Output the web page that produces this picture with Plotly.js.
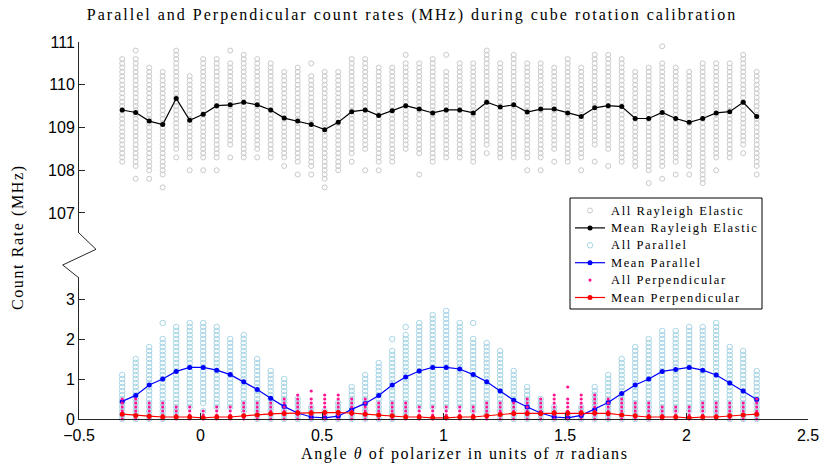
<!DOCTYPE html>
<html>
<head>
<meta charset="utf-8">
<script src="https://cdn.plot.ly/plotly-3.0.1.min.js"></script>
<style>
  body { margin: 0; background: #fff; }
  #chart { width: 824px; height: 464px; }
  .gtitle { letter-spacing: 2px; }
  .annotation-text { letter-spacing: 1.6px; }
</style>
</head>
<body>
<div id="chart"></div>
<script>
// Polarizer angle of each measurement step, in degrees
const angleDeg = [-58, -48, -38, -28, -18, -8, 2, 12, 22, 32, 42, 52, 62, 72, 82, 92,
  102, 112, 122, 132, 142, 152, 162, 172, 182, 192, 202, 212, 222, 232, 242, 252,
  262, 272, 282, 292, 302, 312, 322, 332, 342, 352, 362, 372, 382, 392, 402, 412];

// Mean count rates per angle (MHz)
const meanRayleigh = [109.41, 109.35, 109.15, 109.07, 109.68, 109.17, 109.31, 109.51,
  109.53, 109.59, 109.53, 109.41, 109.22, 109.15, 109.07, 108.95, 109.12, 109.37,
  109.41, 109.28, 109.39, 109.51, 109.43, 109.34, 109.41, 109.41, 109.34, 109.59,
  109.48, 109.53, 109.36, 109.43, 109.43, 109.34, 109.26, 109.46, 109.51, 109.49,
  109.21, 109.21, 109.35, 109.21, 109.12, 109.21, 109.34, 109.37, 109.59, 109.26];

const meanParallel = [0.44, 0.59, 0.85, 1.00, 1.19, 1.29, 1.29, 1.22, 1.11, 0.93,
  0.74, 0.52, 0.31, 0.15, 0.05, 0.03, 0.07, 0.24, 0.39, 0.59, 0.85, 1.05, 1.20,
  1.29, 1.29, 1.25, 1.11, 0.93, 0.70, 0.47, 0.30, 0.15, 0.05, 0.03, 0.09, 0.24,
  0.41, 0.64, 0.85, 1.00, 1.19, 1.24, 1.29, 1.22, 1.10, 0.90, 0.70, 0.49];

const meanPerpendicular = [0.12, 0.09, 0.07, 0.05, 0.05, 0.05, 0.03, 0.05, 0.05, 0.08,
  0.10, 0.13, 0.14, 0.15, 0.15, 0.16, 0.16, 0.15, 0.12, 0.10, 0.08, 0.05, 0.05,
  0.03, 0.03, 0.05, 0.05, 0.08, 0.11, 0.14, 0.14, 0.14, 0.15, 0.15, 0.15, 0.15,
  0.14, 0.10, 0.08, 0.05, 0.05, 0.05, 0.03, 0.05, 0.05, 0.08, 0.10, 0.12];

// Distinct readings recorded at each angle. Readings are quantised, so a
// column is written as runs "lo-hi" (every reading between) plus single values.
const rayleighReadings = [
  "108.2-110.6", "107.8 108.1-110.6 110.8", "107.8 108.0-110.4", "107.6 107.9-110.3",
  "108.3 108.5-110.8", "108.0 108.3-110.2", "108.0 108.3-110.6", "108.0 108.3-110.6",
  "108.3 108.6-110.5 110.8", "108.3-110.7", "108.3 108.5-110.6", "108.3-110.5",
  "108.1 108.3-110.3", "107.9 108.2-110.4", "107.9 108.1-110.2 110.5", "107.6 107.8-110.3",
  "108.0-110.3", "108.2 108.4-110.6", "108.0 108.5-110.6", "108.0 108.2-110.4",
  "108.2-110.4", "108.5-110.5 110.7", "107.9 108.4-110.5", "108.2-110.6",
  "108.3-110.3 110.7", "108.3-110.5", "108.2-110.5", "108.4 108.6-110.8",
  "108.3-110.5", "108.3-110.7", "108.0 108.3-110.5", "108.0 108.3-110.5",
  "108.2 108.5-110.4", "108.2-110.6", "108.0 108.3-110.4", "108.2 108.6-110.7",
  "108.1 108.5-110.7", "108.2-110.6", "108.1-110.3", "107.7 108.0-110.4",
  "107.8 108.1-110.5 110.9", "107.9 108.2-110.4", "107.9 108.1-110.3", "107.7 107.8-110.5",
  "108.0 108.3-110.5", "108.3-110.5", "108.4 108.6-110.7", "107.9 108.1-110.3"];

const parallelReadings = [
  "0-1.1", "0-1.5", "0-1.8", "0-2.0 2.4", "0.1-2.3", "0.3-2.4", "0.2 0.4-2.4", "0.3-2.3",
  "0.3-2.0", "0.2-2.1", "0-1.5", "0-1.2", "0-1.0", "0-0.5", "0-0.3", "0-0.2",
  "0-0.4", "0-0.8", "0-1.1", "0-1.4", "0-1.7 2.0", "0.1-2.1 2.3", "0.3-2.4", "0.3-2.6",
  "0.3-2.7", "0.3-2.4", "0.2-2.0 2.4", "0.1-1.9", "0-1.7", "0-1.2", "0-0.8", "0-0.5",
  "0-0.3", "0-0.1", "0-0.3", "0-0.8", "0-1.1", "0-1.5", "0-1.8", "0-2.0",
  "0.1-2.2", "0.2-2.2", "0.2-2.3", "0.2-2.3", "0.1-2.4", "0-1.8", "0-1.7", "0-1.2"];

const perpendicularReadings = [
  "0-0.5", "0-0.5", "0-0.4", "0-0.4", "0-0.3", "0-0.3", "0-0.2", "0-0.3",
  "0-0.3", "0-0.4", "0-0.4", "0-0.4", "0-0.5", "0-0.6", "0-0.5 0.7", "0-0.6",
  "0-0.6", "0-0.5", "0-0.5", "0-0.4", "0-0.4", "0-0.4", "0-0.3", "0-0.3",
  "0-0.3", "0-0.3", "0-0.3", "0-0.4", "0-0.4", "0-0.4", "0-0.5", "0-0.5",
  "0-0.6", "0-0.5 0.8", "0-0.6", "0-0.6", "0-0.5", "0-0.5", "0-0.4", "0-0.4",
  "0-0.3", "0-0.3", "0-0.3", "0-0.4", "0-0.4", "0-0.4", "0-0.4", "0-0.5"];

const seriesNames = ["All Rayleigh Elastic", "Mean Rayleigh Elastic", "All Parallel",
  "Mean Parallel", "All Perpendicular", "Mean Perpendicular"];

const readingStep = 0.1;   // MHz resolution of the counter
const angle = angleDeg.map(d => d / 180);   // in units of pi radians

function unpack(columns) {
  const xs = [], ys = [];
  columns.forEach((col, i) => {
    col.split(" ").forEach(tok => {
      const parts = tok.split("-");
      const lo = parseFloat(parts[0]);
      const hi = parts.length > 1 ? parseFloat(parts[1]) : lo;
      const n = Math.round((hi - lo) / readingStep);
      for (let k = 0; k <= n; k++) {
        xs.push(angle[i]);
        ys.push(+(lo + k * readingStep).toFixed(2));
      }
    });
  });
  return { x: xs, y: ys };
}

const rayAll = unpack(rayleighReadings);
const parAll = unpack(parallelReadings);
const perpAll = unpack(perpendicularReadings);

const axisColor = "#262626";
const tickFont = { family: "Liberation Sans, Arial, sans-serif", size: 16, color: "#000" };
const serif = "Liberation Serif, Times New Roman, serif";

// Per-series styling, shared by the plot and the legend box
const styles = [
  { kind: "ring", color: "#c9c9c9", size: 5 },
  { kind: "line", color: "#000000", size: 5 },
  { kind: "ring", color: "#a9d6e6", size: 5.5 },
  { kind: "line", color: "#0000ff", size: 5 },
  { kind: "dot",  color: "#ff1493", size: 3.2 },
  { kind: "line", color: "#ff0000", size: 5 }
];

function pointTrace(idx, data, yaxis) {
  const s = styles[idx];
  return {
    name: seriesNames[idx], x: data.x, y: data.y, yaxis: yaxis, type: "scatter",
    mode: "markers", cliponaxis: false, showlegend: false,
    marker: s.kind === "ring"
      ? { symbol: "circle-open", size: s.size, color: s.color, line: { width: 1 } }
      : { symbol: "circle", size: s.size, color: s.color }
  };
}
function meanTrace(idx, yvals, yaxis) {
  const s = styles[idx];
  return {
    name: seriesNames[idx], x: angle, y: yvals, yaxis: yaxis, type: "scatter",
    mode: "lines+markers", cliponaxis: false, showlegend: false,
    line: { color: s.color, width: 1.2 }, marker: { symbol: "circle", size: s.size, color: s.color }
  };
}

const traces = [
  pointTrace(0, rayAll, "y2"),
  meanTrace(1, meanRayleigh, "y2"),
  pointTrace(2, parAll, "y"),
  meanTrace(3, meanParallel, "y"),
  pointTrace(4, perpAll, "y"),
  meanTrace(5, meanPerpendicular, "y")
];

// Plot box in pixels, used to place the axis break and the legend box
const M = { l: 79, r: 16, t: 42, b: 45 };
const W = 824, H = 464;
const pw = W - M.l - M.r, ph = H - M.t - M.b;
const px = v => (v - M.l) / pw;
const py = v => (H - M.b - v) / ph;

const shapes = [{
  // zig-zag marking the break in the count-rate axis
  type: "path", xref: "paper", yref: "paper",
  path: `M ${px(79)} ${py(233)} L ${px(96)} ${py(249.3)} L ${px(62.7)} ${py(265)} L ${px(79)} ${py(278)}`,
  line: { color: axisColor, width: 1 }
}, {
  type: "rect", xref: "paper", yref: "paper", layer: "above",
  x0: px(570), x1: px(762), y0: py(198), y1: py(309),
  line: { color: "#000", width: 1 }, fillcolor: "#fff"
}];

const annotations = [
  { text: "Angle <i>\u03b8</i> of polarizer in units of <i>\u03c0</i> radians",
    xref: "paper", yref: "paper", x: px(465), y: py(454), xanchor: "center", yanchor: "middle",
    showarrow: false, font: { family: serif, size: 16, color: "#000" } },
  { text: "Count Rate (MHz)", textangle: -90,
    xref: "paper", yref: "paper", x: px(18), y: py(237), xanchor: "center", yanchor: "middle",
    showarrow: false, font: { family: serif, size: 16, color: "#000" } }
];

// Legend box entries
const rowY = [210.5, 227.9, 245.3, 262.7, 280.1, 297.5];
seriesNames.forEach((name, i) => {
  const s = styles[i];
  const yc = py(rowY[i]);
  if (s.kind === "line") {
    shapes.push({ type: "line", xref: "paper", yref: "paper", layer: "above",
      x0: px(575), x1: px(605), y0: yc, y1: yc, line: { color: s.color, width: 1.2 } });
  }
  const r = s.size / 2;
  shapes.push({ type: "circle", xref: "paper", yref: "paper", layer: "above",
    xsizemode: "pixel", ysizemode: "pixel", xanchor: px(590), yanchor: yc,
    x0: -r, x1: r, y0: -r, y1: r,
    line: { color: s.color, width: s.kind === "ring" ? 1 : 0 },
    fillcolor: s.kind === "ring" ? "rgba(0,0,0,0)" : s.color });
  annotations.push({ text: name, xref: "paper", yref: "paper", x: px(609), y: yc,
    xanchor: "left", yanchor: "middle", showarrow: false,
    font: { family: serif, size: 12.5, color: "#000" } });
});

const commonY = {
  anchor: "x", ticks: "inside", ticklen: 6, tickcolor: axisColor, showline: true,
  linecolor: axisColor, linewidth: 1, showgrid: false, zeroline: false, tickfont: tickFont
};

const layout = {
  width: W, height: H, margin: M,
  paper_bgcolor: "#fff", plot_bgcolor: "#fff",
  showlegend: false,
  title: {
    text: "Parallel and Perpendicular count rates (MHz) during cube rotation calibration",
    font: { family: serif, size: 16, color: "#000" },
    x: 0.5, xref: "container", xanchor: "center",
    y: 0.97, yref: "container", yanchor: "middle"
  },
  xaxis: {
    range: [-0.5, 2.5], tickvals: [-0.5, 0, 0.5, 1, 1.5, 2, 2.5],
    ticktext: ["\u22120.5", "0", "0.5", "1", "1.5", "2", "2.5"],
    ticks: "inside", ticklen: 6, tickcolor: axisColor, showline: true, linecolor: axisColor,
    linewidth: 1, showgrid: false, zeroline: false, tickfont: tickFont, anchor: "y",
    ticklabelstandoff: 2
  },
  yaxis: Object.assign({ domain: [0, py(278)], range: [0, 3.525], tickvals: [0, 1, 2, 3] }, commonY),
  yaxis2: Object.assign({ domain: [py(233), 1], range: [106.532, 111],
    tickvals: [107, 108, 109, 110, 111] }, commonY),
  shapes: shapes,
  annotations: annotations
};

Plotly.newPlot("chart", traces, layout, { displayModeBar: false, staticPlot: true });
</script>
</body>
</html>
